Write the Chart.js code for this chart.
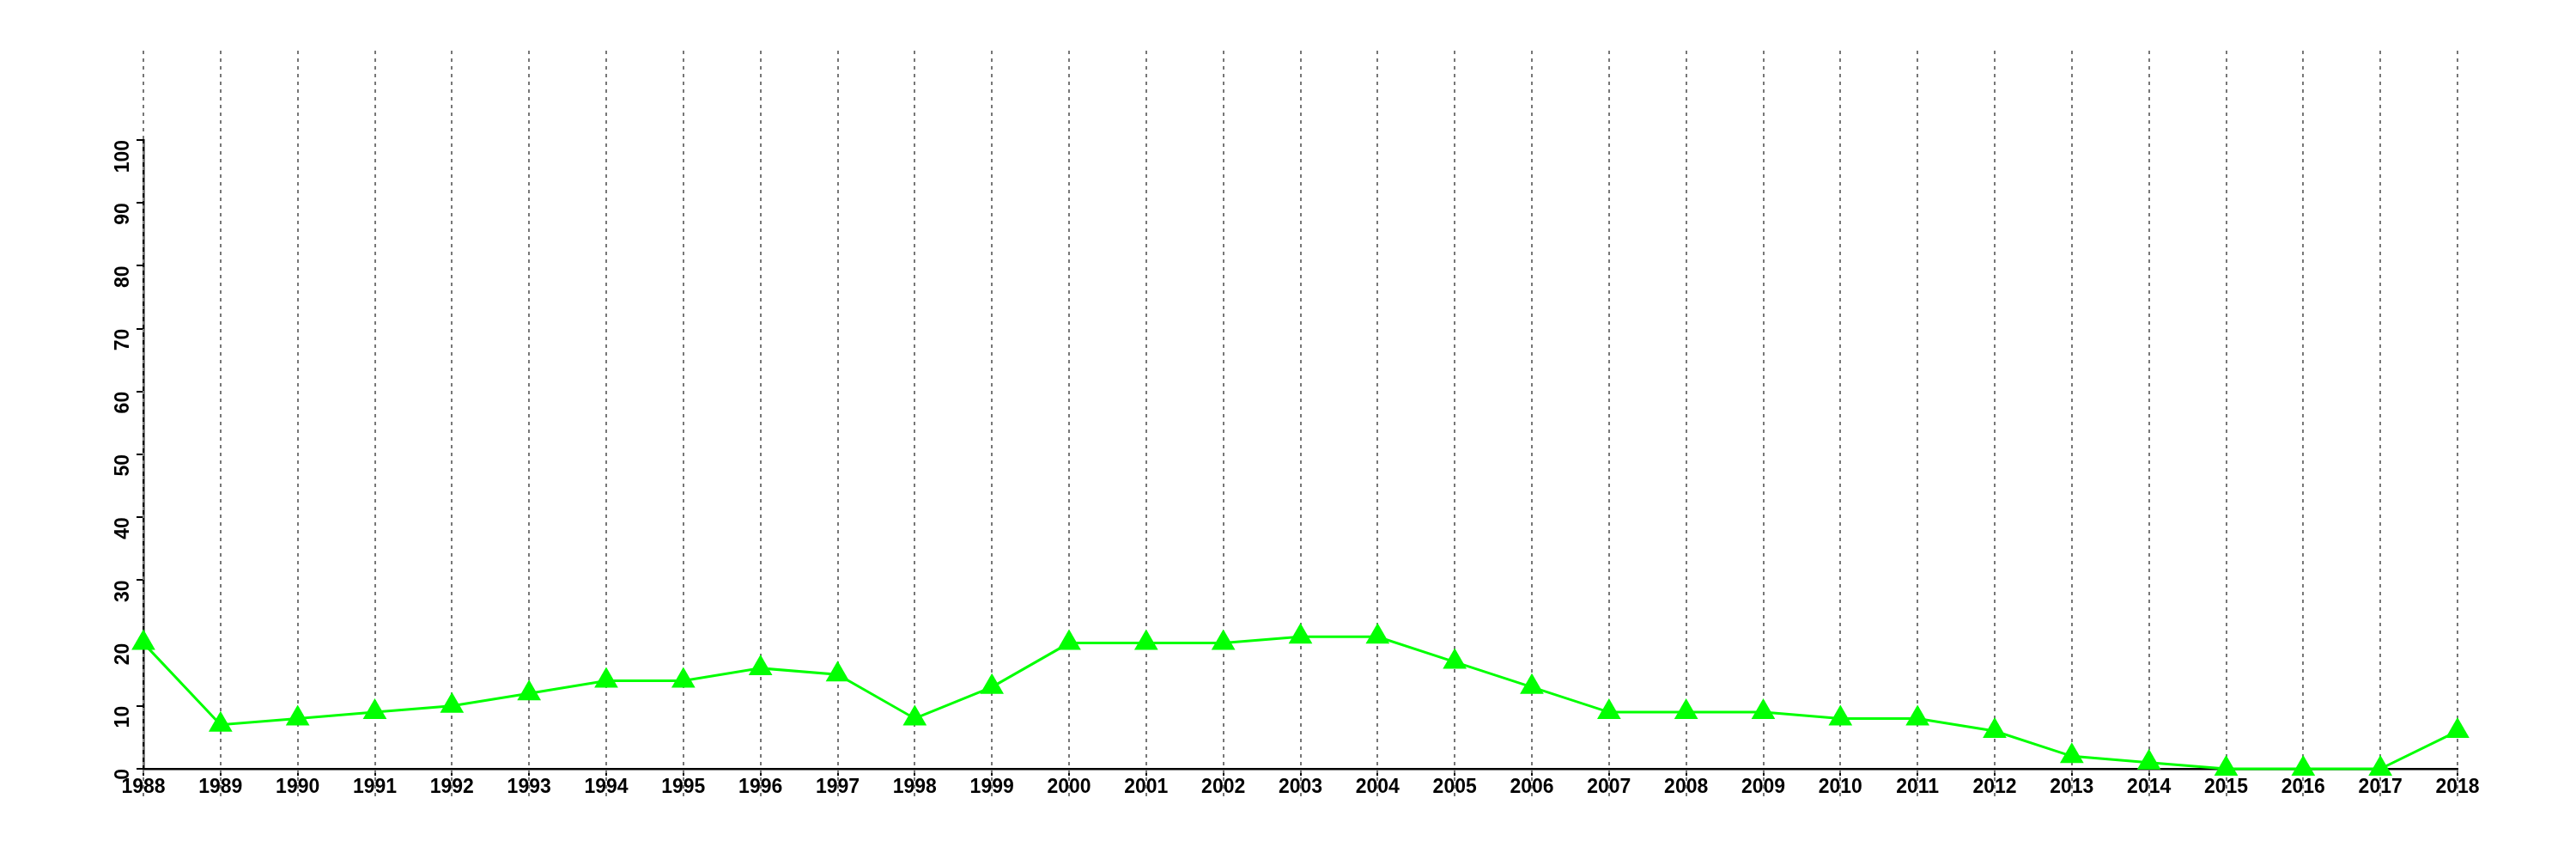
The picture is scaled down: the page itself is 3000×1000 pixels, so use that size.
<!DOCTYPE html>
<html lang="en">
<head>
  <meta charset="UTF-8" />
  <title>1988-2018</title>
  <script src="https://cdn.jsdelivr.net/npm/chart.js"></script>
  <style>
    html, body { margin: 0; padding: 0; background: #fff; }
    #wrap { width: 3000px; height: 1000px; position: relative; }
  </style>
</head>
<body>
  <div id="wrap"><canvas id="chart" width="3000" height="1000"></canvas></div>
  <script>
    // data
    const years = ["1988", "1989", "1990", "1991", "1992", "1993", "1994", "1995", "1996", "1997",
                   "1998", "1999", "2000", "2001", "2002", "2003", "2004", "2005", "2006", "2007",
                   "2008", "2009", "2010", "2011", "2012", "2013", "2014", "2015", "2016", "2017", "2018"];
    const values = [20, 7, 8, 9, 10, 12, 14, 14, 16, 15,
                    8, 13, 20, 20, 20, 21, 21, 17, 13, 9,
                    9, 9, 8, 8, 6, 2, 1, 0, 0, 0, 6];
    const yMin = 0, yMax = 100, yStep = 10;

    const tickFont = { family: "'Liberation Sans', Arial, sans-serif", size: 23, weight: "bold" };

    // dotted year lines run past the plot, through the labels
    const yearLines = {
      id: "yearLines",
      beforeDatasetsDraw(chart) {
        const x = chart.scales.x;
        const ctx = chart.ctx;
        ctx.save();
        ctx.strokeStyle = "#777";
        ctx.lineWidth = 2;
        ctx.setLineDash([4, 5]);
        x.ticks.forEach((t, i) => {
          const px = Math.round(x.getPixelForTick(i));
          ctx.beginPath();
          ctx.moveTo(px, 59);
          ctx.lineTo(px, 928);
          ctx.stroke();
        });
        ctx.restore();
      }
    };

    new Chart(document.getElementById("chart").getContext("2d"), {
      type: "line",
      data: {
        labels: years,
        datasets: [{
          data: values,
          borderColor: "#00ff00",
          backgroundColor: "#00ff00",
          borderWidth: 3,
          pointStyle: "triangle",
          pointRadius: 16,
          pointBackgroundColor: "#00ff00",
          pointBorderColor: "#00ff00",
          pointBorderWidth: 0,
          tension: 0,
          clip: false
        }]
      },
      options: {
        responsive: false,
        animation: false,
        events: [],
        layout: { padding: { top: 163, right: 138, left: 0, bottom: 0 } },
        plugins: { legend: { display: false }, tooltip: { enabled: false } },
        scales: {
          x: {
            type: "category",
            offset: false,
            afterFit(s) { s.height = 105; },
            grid: { display: true, drawOnChartArea: false, drawTicks: true, tickLength: 8, color: "#000", lineWidth: 2 },
            border: { display: true, color: "#000", width: 2.5 },
            ticks: { color: "#000", font: tickFont, padding: 0, maxRotation: 0, minRotation: 0, autoSkip: false }
          },
          y: {
            min: yMin,
            max: yMax,
            afterFit(s) { s.width = 167; },
            grid: { display: true, drawOnChartArea: false, drawTicks: true, tickLength: 8, color: "#000", lineWidth: 2 },
            border: { display: true, color: "#000", width: 2.5 },
            ticks: { stepSize: yStep, color: "#000", font: tickFont, padding: 15, minRotation: 90, maxRotation: 90 }
          }
        }
      },
      plugins: [yearLines]
    });
  </script>
</body>
</html>
